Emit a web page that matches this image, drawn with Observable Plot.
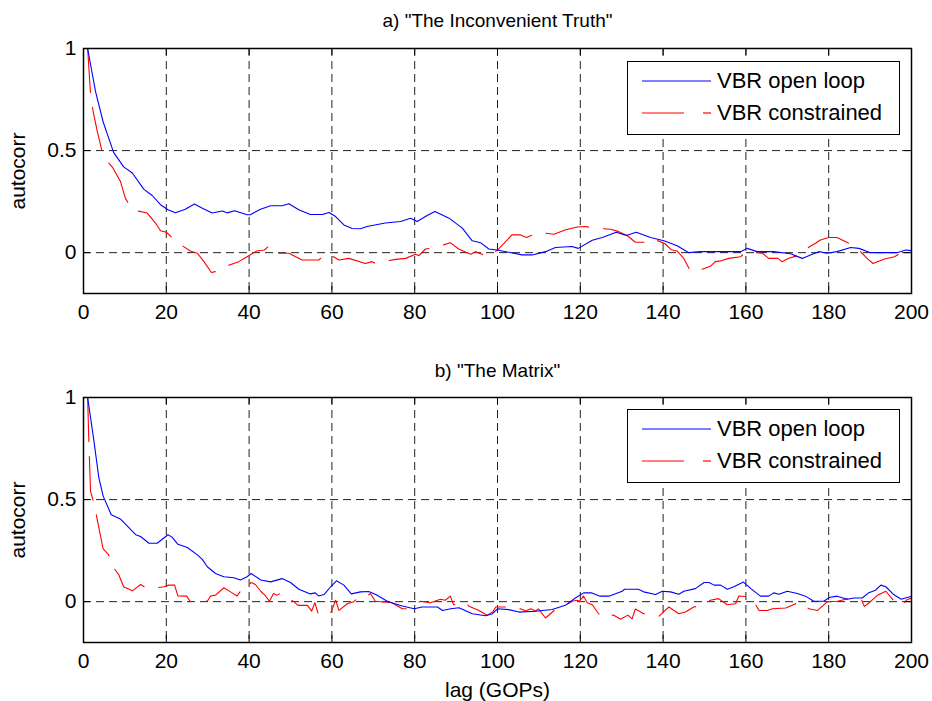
<!DOCTYPE html>
<html>
<head>
<meta charset="utf-8">
<script src="https://cdn.jsdelivr.net/npm/d3@7"></script>
<script src="https://cdn.jsdelivr.net/npm/@observablehq/plot@0.6"></script>
<style>
  html, body { margin: 0; padding: 0; background: white; }
  #wrap { position: relative; width: 932px; height: 701px; font-family: "Liberation Sans", Arial, sans-serif; }
  #wrap svg { display: block; }
  .legend { position: absolute; background: white; border: 1.5px solid black; box-sizing: border-box; }
  .legend .row { position: absolute; left: 0; height: 30px; width: 100%; }
  .legend .row svg { position: absolute; left: 0; top: 0; }
  .legend .row span { position: absolute; left: 89px; top: 0; line-height: 30px; font-size: 22px; color: black; white-space: nowrap; }
</style>
</head>
<body>
<div id="wrap"></div>
<script>
// ---- data (lag in GOPs, autocorrelation) ----
const titles = ['a) "The Inconvenient Truth"', 'b) "The Matrix"'];
const seriesNames = ["VBR open loop", "VBR constrained"];
const xTicks = [0, 20, 40, 60, 80, 100, 120, 140, 160, 180, 200];
const yTicks = [0, 0.5, 1];
const yGrid = [0, 0.5];

const openA = [[1,1],[2.9,0.79],[4.75,0.64],[7.3,0.49],[9.7,0.42],[11.8,0.39],[14.6,0.31],[16.6,0.28],[18.6,0.235],[20.4,0.21],[22.2,0.195],[24.6,0.213],[26.8,0.238],[28.7,0.218],[31.1,0.194],[33.5,0.204],[34.7,0.195],[36.5,0.205],[39.5,0.186],[40.3,0.186],[42.75,0.213],[45.2,0.23],[48,0.23],[49.6,0.24],[52,0.21],[54.8,0.187],[57.7,0.187],[59.3,0.197],[60.9,0.177],[62.9,0.136],[64.9,0.118],[66.9,0.117],[68.5,0.128],[72.9,0.145],[76.6,0.153],[79,0.169],[80.6,0.153],[83,0.182],[84.9,0.202],[88.3,0.169],[91.5,0.12],[93.9,0.058],[95.9,0.049],[97.9,0.018],[99.9,0.013],[102.7,0.002],[105.9,-0.011],[108.4,-0.011],[111.6,0.005],[114,0.025],[118,0.03],[119.5,0.021],[122.9,0.061],[125.3,0.074],[128.7,0.1],[131.1,0.084],[133.5,0.1],[137,0.074],[140.2,0.058],[143.4,0.034],[146.2,0],[149,0.005],[152,0.005],[158.7,0.005],[160.3,0.021],[162.7,0.005],[166.7,0.005],[170.8,-0.005],[173.6,-0.028],[175.6,-0.011],[177.6,0.005],[179.6,-0.003],[182,0.005],[185.3,0.025],[187.3,0.021],[190.1,0],[196.5,0],[198.6,0.013],[200,0.01]];

const consA = [[1,1],[1.7,0.777],[2.3,0.695],[3.3,0.596],[4.75,0.473],[7.1,0.415],[8.9,0.35],[10.1,0.267],[11.8,0.21],[15.4,0.194],[17.4,0.145],[18.6,0.107],[20,0.1],[22.6,0.051],[25.8,0.008],[27.5,-0.003],[29.1,-0.044],[30.9,-0.097],[32.7,-0.089],[33.9,-0.07],[37.5,-0.044],[39.5,-0.02],[41.8,0.008],[43.7,0.013],[44.8,0.033],[46.2,-0.003],[49.6,-0.003],[52.8,-0.036],[56.8,-0.036],[58.9,-0.003],[61.7,-0.036],[64.1,-0.028],[68.1,-0.053],[69.7,-0.044],[70.5,-0.053],[72,-0.044],[75.4,-0.033],[77.8,-0.028],[80.2,-0.008],[81,-0.015],[82.6,0.018],[85,0.025],[88.6,0.049],[90.6,0.018],[93.5,-0.008],[94.7,0.005],[97.7,-0.02],[100.3,0.018],[103.5,0.087],[105.6,0.087],[107,0.074],[110,0.1],[113.6,0.09],[116.5,0.112],[119.3,0.126],[121.3,0.128],[123.3,0.12],[127.3,0.115],[129.3,0.103],[131.3,0.084],[133.3,0.051],[135.3,0.051],[137.3,0.07],[140.4,0.045],[142,0.014],[143.4,0.008],[145,-0.028],[146.6,-0.09],[148.2,-0.09],[151.4,-0.067],[152.6,-0.044],[154,-0.04],[155.9,-0.028],[158.7,-0.02],[160.1,0.005],[164,-0.003],[165.5,-0.028],[167.7,-0.028],[168.7,-0.044],[170.5,-0.026],[172.3,-0.016],[173.3,0.003],[176.8,0.046],[178,0.062],[180,0.074],[182,0.074],[184.5,0.05],[186.7,0.025],[189.4,-0.03],[190.7,-0.053],[193.5,-0.031],[195.9,-0.02],[197.3,-0.003],[198.8,0.018]];

const openB = [[1,1],[2.5,0.79],[3.7,0.607],[4.75,0.517],[6.7,0.426],[8.9,0.405],[12.6,0.328],[13.8,0.319],[15.8,0.286],[17.8,0.286],[20.4,0.328],[21.4,0.316],[22.8,0.281],[25.1,0.265],[27.5,0.229],[28.7,0.207],[29.9,0.171],[31.9,0.138],[33.9,0.122],[36.3,0.117],[37.9,0.106],[39.5,0.122],[40.5,0.138],[42.8,0.106],[45.2,0.097],[48,0.113],[50,0.094],[52,0.061],[54.8,0.038],[56,0.043],[56.8,0.028],[58.1,0.035],[59.7,0.073],[61.1,0.102],[62.9,0.081],[64.7,0.038],[66.9,0.048],[68.9,0.05],[70.6,0.035],[73.6,0],[77,-0.021],[79.9,-0.035],[81.8,-0.026],[85.5,-0.026],[86.7,-0.043],[88.7,-0.035],[90.7,-0.03],[93.9,-0.059],[97.1,-0.069],[98.8,-0.059],[100,-0.035],[102.7,-0.039],[105.2,-0.051],[109.2,-0.047],[113.2,-0.038],[116.4,-0.018],[118.8,0.018],[120.8,0.043],[122.8,0.043],[124.8,0.027],[126.9,0.027],[130.1,0.051],[130.7,0.061],[134,0.061],[135.3,0.048],[138.2,0.035],[139.8,0.051],[141.8,0.048],[143.8,0.036],[145,0.051],[147.8,0.064],[149.9,0.094],[151.1,0.094],[152.3,0.081],[153.9,0.081],[155.5,0.061],[157.1,0.073],[159.4,0.096],[161.2,0.064],[163.5,0.027],[165.5,0.027],[166.7,0.043],[168,0.036],[170,0.051],[172.4,0.04],[174.4,0.027],[176.4,0.002],[178.8,0.002],[180.1,0.02],[182,0.027],[184.5,0.012],[186.1,0.018],[188.1,0.018],[189.7,0.044],[191.3,0.056],[192.6,0.081],[193.8,0.073],[195.7,0.035],[197.5,0.012],[199.4,0.023],[200,0.027]];

const consB = [[1,1],[1.3,0.78],[1.7,0.541],[2.65,0.472],[3.4,0.393],[4.75,0.258],[6.1,0.229],[6.5,0.187],[8.5,0.133],[9.7,0.073],[11.8,0.053],[13.8,0.084],[15,0.068],[16,0.064],[19.4,0.073],[20.6,0.081],[22,0.081],[22.8,0.028],[24.9,0.027],[25.8,0],[27.5,0.007],[29.9,0.002],[30.7,0.028],[31.9,0.032],[33.9,0.068],[35.5,0.048],[37.1,0.028],[37.8,0.048],[38.3,0.04],[40.5,0.094],[41.5,0.084],[42.8,0.051],[44,0.028],[44.9,0.002],[45.9,0.04],[46.8,0.032],[47.8,0.043],[50.8,0],[51.8,-0.018],[54.1,-0.018],[55.1,-0.046],[55.9,-0.005],[56.8,-0.067],[59.8,-0.051],[60.9,0.007],[61.7,-0.043],[63.7,-0.01],[65.3,0],[66.1,0.015],[67.5,0.012],[69.3,0.04],[70.5,0.002],[74.5,-0.005],[77,-0.035],[78.6,-0.035],[81.4,0.002],[83.8,-0.005],[86.2,0.012],[87.4,0.007],[88.6,0.027],[89.4,-0.015],[92.2,0],[93,-0.021],[95.5,-0.043],[97.5,-0.067],[98.8,-0.051],[99.6,-0.026],[103.2,-0.026],[104.4,-0.038],[105.6,-0.035],[106.8,-0.046],[108,-0.035],[109.2,-0.046],[109.9,-0.035],[111.6,-0.08],[114,-0.038],[116,-0.023],[118,0.002],[119.3,0.007],[119.8,0.002],[120.8,0.027],[121.7,-0.005],[122.9,-0.015],[124.9,-0.073],[126.5,-0.06],[128.1,-0.067],[129.7,-0.086],[131.5,-0.066],[132.5,-0.084],[133.3,-0.036],[135.3,-0.059],[139,-0.071],[141.4,-0.026],[143.8,-0.059],[145.4,-0.051],[147.4,-0.026],[150.2,-0.015],[151.4,0.007],[153.4,0.015],[155.5,-0.015],[157.5,-0.01],[158.3,0.028],[161.2,0.023],[163.2,-0.043],[165.2,-0.043],[166.4,-0.035],[169.6,-0.031],[173.2,0],[175.2,-0.035],[177.3,-0.043],[179.7,0],[182.1,0.002],[185.3,0.018],[187.8,0.015],[188.6,-0.023],[189.8,-0.005],[191.8,0.032],[193.8,0.051],[196.3,-0.01],[197.9,-0.015],[198.7,0.007],[200,0.018]];

// ---- drawing ----
const FONT = '"Liberation Sans", Arial, Helvetica, sans-serif';
const xDomain = [0, 200];
const yDomain = [-0.2, 1];
const gridX = xTicks.slice(1, -1);

function panel({title, open, cons, height, marginTop, marginBottom, xLabel}) {
  const frameH = height - marginTop - marginBottom;
  const frameW = 932 - 83 - 21;
  const tyLen = 7 * (yDomain[1] - yDomain[0]) / frameH;   // inner tick length in y units
  const txLen = 7 * (xDomain[1] - xDomain[0]) / frameW;   // inner tick length in x units
  const marks = [
    Plot.ruleX(gridX, {stroke: "#222", strokeWidth: 1, strokeDasharray: "8,5"}),
    Plot.ruleY(yGrid, {stroke: "#222", strokeWidth: 1, strokeDasharray: "8,5"}),
    // inward tick marks (MATLAB style)
    Plot.ruleX(xTicks, {y1: yDomain[0], y2: yDomain[0] + tyLen, stroke: "black"}),
    Plot.ruleX(xTicks, {y1: yDomain[1], y2: yDomain[1] - tyLen, stroke: "black"}),
    Plot.ruleY(yTicks, {x1: xDomain[0], x2: xDomain[0] + txLen, stroke: "black"}),
    Plot.ruleY(yTicks, {x1: xDomain[1], x2: xDomain[1] - txLen, stroke: "black"}),
    Plot.line(cons, {x: d => d[0], y: d => d[1], stroke: "#ff0000", strokeWidth: 1.1, strokeDasharray: "44,15"}),
    Plot.line(open, {x: d => d[0], y: d => d[1], stroke: "#0000ff", strokeWidth: 1.1}),
    Plot.frame({stroke: "black", strokeWidth: 1.5}),
    Plot.axisX(xTicks, {anchor: "bottom", tickSize: 0, tickPadding: 11, label: null, fontSize: 21}),
    Plot.axisY(yTicks, {anchor: "left", tickSize: 0, tickPadding: 7, label: null, fontSize: 21, tickFormat: d => String(d)}),
    Plot.text([title], {text: d => d, frameAnchor: "top", textAnchor: "middle", lineAnchor: "middle", dy: -(marginTop - 20), fontSize: 19}),
    Plot.text(["autocorr"], {text: d => d, frameAnchor: "left", textAnchor: "middle", lineAnchor: "middle", rotate: -90, dx: -65, fontSize: 21})
  ];
  if (xLabel) {
    marks.push(Plot.text([xLabel], {text: d => d, frameAnchor: "bottom", textAnchor: "middle", lineAnchor: "middle", dy: 48, fontSize: 21}));
  }
  return Plot.plot({
    width: 932,
    height,
    marginLeft: 83,
    marginRight: 21,
    marginTop,
    marginBottom,
    x: {domain: xDomain},
    y: {domain: yDomain},
    style: {fontFamily: FONT, fontSize: "21px", background: "white", color: "black", overflow: "visible"},
    marks
  });
}

function legend(top) {
  const div = document.createElement("div");
  div.className = "legend";
  Object.assign(div.style, {left: "627px", top: top + "px", width: "273px", height: "74px"});
  const rows = [
    {name: seriesNames[0], y: 4, svg: '<line x1="14" x2="83" y1="15" y2="15" stroke="#0000ff" stroke-width="1.2"/>'},
    {name: seriesNames[1], y: 36, svg: '<line x1="14" x2="56" y1="15" y2="15" stroke="#ff0000" stroke-width="1.2"/><line x1="75" x2="83" y1="15" y2="15" stroke="#ff0000" stroke-width="1.2"/>'}
  ];
  for (const r of rows) {
    const row = document.createElement("div");
    row.className = "row";
    row.style.top = r.y + "px";
    row.innerHTML = '<svg width="90" height="30">' + r.svg + '</svg><span>' + r.name + '</span>';
    div.appendChild(row);
  }
  return div;
}

const wrap = document.getElementById("wrap");
wrap.appendChild(panel({title: titles[0], open: openA, cons: consA, height: 350, marginTop: 48, marginBottom: 57}));
wrap.appendChild(panel({title: titles[1], open: openB, cons: consB, height: 351, marginTop: 47, marginBottom: 59, xLabel: "lag (GOPs)"}));
wrap.appendChild(legend(61));
wrap.appendChild(legend(409));
</script>
</body>
</html>
